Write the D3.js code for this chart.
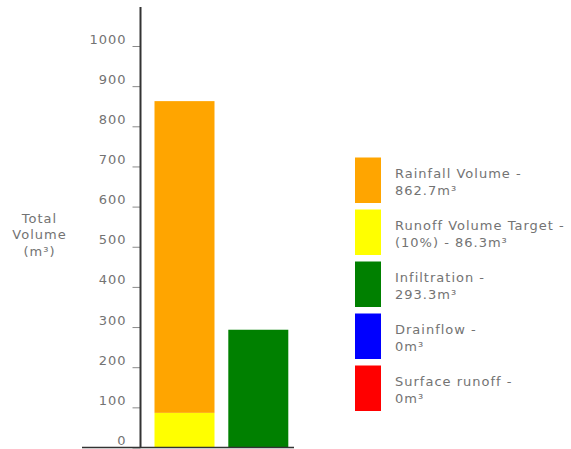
<!DOCTYPE html>
<html>
<head>
<meta charset="utf-8">
<script src="https://cdn.jsdelivr.net/npm/d3@7"></script>
<style>
  html, body { margin: 0; padding: 0; background: #fff; }
  svg { display: block; }
  text { font-family: "DejaVu Sans", Verdana, sans-serif; font-size: 13px; fill: #737373; letter-spacing: 1px; }
</style>
</head>
<body>
<svg id="chart" width="571" height="449"></svg>
<script>
// Water balance volumes (m³)
const seriesNames = ["Rainfall Volume", "Runoff Volume Target", "Infiltration", "Drainflow", "Surface runoff"];
const seriesValues = [862.7, 86.3, 293.3, 0, 0];
const seriesColors = ["#ffa500", "#ffff00", "#008000", "#0000ff", "#ff0000"];
const legendPrefixes = ["", "(10%) - ", "", "", ""];
const barCategories = ["Rainfall", "Outflow"];
const tickValues = [0, 100, 200, 300, 400, 500, 600, 700, 800, 900, 1000];
const axisTitle = ["Total", "Volume", "(m³)"];

const svg = d3.select("#chart");

const y = d3.scaleLinear().domain([0, 1000]).range([447.5, 46]);
const x = d3.scaleBand().domain(barCategories)
  .range([147.6, 295.2]).paddingInner(0.187).paddingOuter(0.0935);

// Segments: yellow target under the rainfall total; outflows stacked in the second bar
const segments = [
  { cat: "Rainfall", s: 1, y0: 0, y1: seriesValues[1] },
  { cat: "Rainfall", s: 0, y0: seriesValues[1], y1: seriesValues[0] },
];
let acc = 0;
[2, 3, 4].forEach(s => {
  segments.push({ cat: "Outflow", s, y0: acc, y1: acc + seriesValues[s] });
  acc += seriesValues[s];
});

svg.append("g").selectAll("rect")
  .data(segments.filter(d => d.y1 > d.y0))
  .join("rect")
  .attr("x", d => x(d.cat))
  .attr("width", x.bandwidth())
  .attr("y", d => y(d.y1))
  .attr("height", d => y(d.y0) - y(d.y1))
  .attr("fill", d => seriesColors[d.s]);

// Y axis
const axis = d3.axisLeft(y).tickValues(tickValues).tickSize(8).tickPadding(6).tickFormat(d3.format("d"));
const ag = svg.append("g").attr("transform", "translate(140.5,0)").call(axis);
ag.select(".domain").remove();
ag.selectAll(".tick line").attr("stroke", "#8a8a8a").attr("stroke-width", 1);
ag.selectAll(".tick text")
  .attr("dy", "-3px")
  .style("font-family", "'DejaVu Sans', Verdana, sans-serif")
  .style("font-size", "13px")
  .attr("fill", "#737373");

svg.append("line")
  .attr("x1", 140.5).attr("x2", 140.5).attr("y1", 7).attr("y2", y(0))
  .attr("stroke", "#333").attr("stroke-width", 2);
svg.append("line")
  .attr("x1", 82).attr("x2", 294).attr("y1", y(0)).attr("y2", y(0))
  .attr("stroke", "#333").attr("stroke-width", 1.5);

// Axis title
svg.append("text")
  .attr("text-anchor", "middle")
  .selectAll("tspan").data(axisTitle).join("tspan")
  .attr("x", 39.5)
  .attr("y", (d, i) => 222.7 + i * 16.5)
  .text(d => d);

// Legend
const lg = svg.append("g").selectAll("g").data(seriesNames).join("g")
  .attr("transform", (d, i) => `translate(355,${157.5 + i * 52})`);
lg.append("rect")
  .attr("width", 26).attr("height", 45.5)
  .attr("fill", (d, i) => seriesColors[i]);
lg.append("text").attr("x", 40).attr("y", 20.5).text(d => d + " -");
lg.append("text").attr("x", 40).attr("y", 37)
  .text((d, i) => `${legendPrefixes[i]}${seriesValues[i]}m³`);
</script>
</body>
</html>
